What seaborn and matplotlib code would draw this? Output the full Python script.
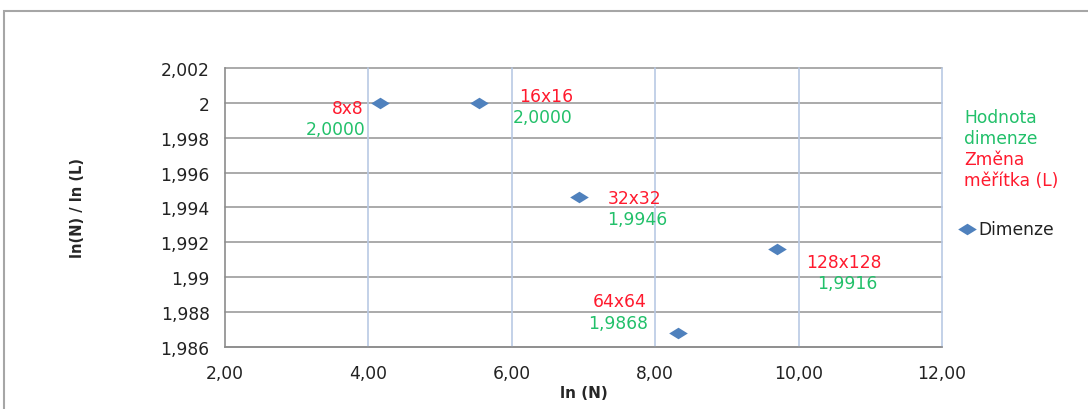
import matplotlib
matplotlib.use("Agg")
import matplotlib.pyplot as plt
import matplotlib.patches as mpatches
from matplotlib.path import Path
from matplotlib.ticker import FuncFormatter, MultipleLocator
import pandas as pd
import seaborn as sns

# data
mrizky = ["8x8", "16x16", "32x32", "64x64", "128x128"]
ln_n = [4.159, 5.545, 6.931, 8.318, 9.704]
dimenze = [2.0000, 2.0000, 1.9946, 1.9868, 1.9916]
popisky = ["2,0000", "2,0000", "1,9946", "1,9868", "1,9916"]

df = pd.DataFrame({"ln_n": ln_n, "dim": dimenze, "mrizka": mrizky, "popis": popisky})

sns.set_style("white")
plt.rcParams["font.family"] = ["DejaVu Sans"]

CERVENA = "#FF1A2E"
ZELENA = "#22C06A"
MODRA = "#4F81BD"
FS = 12.3

fig = plt.figure(figsize=(10.88, 4.10), dpi=100)
ax = fig.add_axes([0.2068, 0.151, 0.659, 0.681])

# Excel-like flat diamond
kosoctverec = Path([(-1, 0), (0, 0.62), (1, 0), (0, -0.62), (-1, 0)],
                   [Path.MOVETO, Path.LINETO, Path.LINETO, Path.LINETO, Path.CLOSEPOLY])

sns.scatterplot(data=df, x="ln_n", y="dim", ax=ax, marker=kosoctverec, s=180,
                color=MODRA, edgecolor=MODRA, linewidth=0, zorder=5, label="Dimenze")

ax.set_xlim(2, 12)
ax.set_ylim(1.986, 2.002)
ax.xaxis.set_major_locator(MultipleLocator(2))
ax.yaxis.set_major_locator(MultipleLocator(0.002))
ax.xaxis.set_major_formatter(FuncFormatter(lambda v, p: f"{v:.2f}".replace(".", ",")))
ax.yaxis.set_major_formatter(FuncFormatter(
    lambda v, p: f"{v:.3f}".rstrip("0").rstrip(".").replace(".", ",")))

# gridlines: grey horizontal, light blue vertical
ax.grid(False)
for yv in ax.get_yticks():
    if 1.986 - 1e-9 <= yv <= 2.002 + 1e-9:
        ax.axhline(yv, color="#9C9C9C", lw=1.2, zorder=1, clip_on=False)
for xv in ax.get_xticks():
    if 2 < xv <= 12:
        ax.axvline(xv, color="#B9C9E4", lw=1.2, zorder=1, clip_on=False)

for s in ["top", "right"]:
    ax.spines[s].set_visible(False)
for s in ["left", "bottom"]:
    ax.spines[s].set_color("#8C8C8C")
    ax.spines[s].set_linewidth(1.2)
ax.tick_params(axis="both", direction="out", length=5, width=1.2, color="#8C8C8C",
               labelsize=FS, labelcolor="#222222")
ax.tick_params(axis="x", pad=7)
ax.tick_params(axis="y", pad=6)

ax.set_xlabel("ln (N)", fontsize=11, fontweight="bold", labelpad=2)
ax.set_ylabel("ln(N) / ln (L)", fontsize=10.5, fontweight="bold", labelpad=54)

# point labels: red grid size, green dimension value (offsets in points)
offs_red = [(-12, -4), (48, 5), (40, -1), (-42, 23), (48, -9)]
offs_green = [(-32, -19), (46, -10), (42, -16), (-43, 7), (50, -24)]
ha_red = ["right", "center", "center", "center", "center"]
for i, r in df.iterrows():
    ax.annotate(r["mrizka"], (r["ln_n"], r["dim"]), xytext=offs_red[i],
                textcoords="offset points", color=CERVENA, fontsize=FS,
                ha=ha_red[i], va="center", zorder=6)
    ax.annotate(r["popis"], (r["ln_n"], r["dim"]), xytext=offs_green[i],
                textcoords="offset points", color=ZELENA, fontsize=FS,
                ha="center", va="center", zorder=6)

# legend area
leg = ax.legend(loc="upper left", bbox_to_anchor=(1.012, 0.48), frameon=False,
                fontsize=FS, handletextpad=0.1, handlelength=1.1, borderaxespad=0)
for t in leg.get_texts():
    t.set_color("#222222")
fig.text(0.886, 0.687, "Hodnota\ndimenze", color=ZELENA, fontsize=FS,
         va="center", ha="left", linespacing=1.2)
fig.text(0.886, 0.585, "Změna\nměřítka (L)", color=CERVENA, fontsize=FS,
         va="center", ha="left", linespacing=1.2)

# outer chart frame
fig.patches.append(mpatches.Rectangle((0.004, -0.05), 1.05, 1.021, transform=fig.transFigure,
                                      fill=False, edgecolor="#A6A6A6", lw=1.5))

fig.savefig("out.png", dpi=100)
